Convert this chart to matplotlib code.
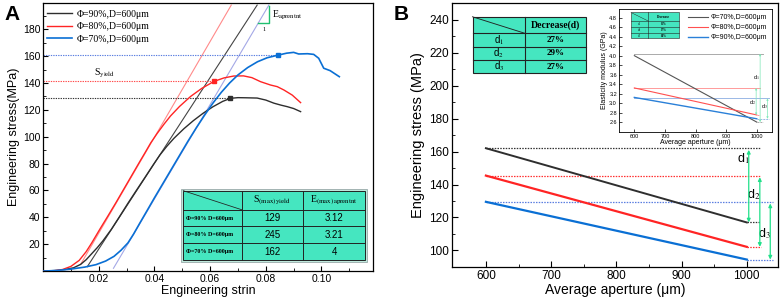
import matplotlib
matplotlib.use("Agg")
import matplotlib.pyplot as plt
from matplotlib.patches import Rectangle
from matplotlib.lines import Line2D

plt.rcParams['font.family'] = ['Liberation Sans', 'DejaVu Sans']
plt.rcParams['mathtext.fontset'] = 'stix'

SERIF = ['Liberation Serif', 'DejaVu Serif']

# ---------------- Panel A data ----------------
labels_A = ["Φ=90%,D=600μm", "Φ=80%,D=600μm", "Φ=70%,D=600μm"]
strain_90 = [0.000, 0.005, 0.008, 0.011, 0.0135, 0.0155, 0.0175, 0.0195, 0.0215, 0.0245,
             0.0273, 0.0305, 0.0335, 0.0367, 0.0397, 0.0420, 0.0445, 0.0470, 0.0506, 0.0540,
             0.0575, 0.0610, 0.0645, 0.0673, 0.0700, 0.0730, 0.0769, 0.0800, 0.0829, 0.0855,
             0.0877, 0.0900, 0.0925]
stress_90 = [0, 0.5, 1.2, 2.5, 5.0, 8.5, 13.0, 17.5, 22.5, 31.0,
             40.0, 50.5, 60.0, 70.0, 79.5, 86.5, 93.0, 98.8, 106.0, 112.0,
             117.5, 122.3, 126.3, 128.6, 129.1, 129.0, 128.8, 127.3, 125.0, 123.5,
             122.4, 121.0, 118.7]
strain_80 = [0.000, 0.004, 0.007, 0.010, 0.013, 0.0155, 0.0175, 0.0205, 0.0233, 0.0262,
             0.0290, 0.0318, 0.0346, 0.0366, 0.0387, 0.0410, 0.0435, 0.0458, 0.0490, 0.0530,
             0.0570, 0.0614, 0.0650, 0.0685, 0.0720, 0.0750, 0.0781, 0.0817, 0.0841, 0.0865,
             0.0895, 0.0925]
stress_80 = [0, 0.3, 1.2, 3.5, 8.0, 14.5, 21.0, 31.5, 41.0, 51.0,
             61.0, 71.0, 81.0, 88.0, 95.5, 102.5, 109.5, 115.5, 122.5, 130.0,
             136.0, 141.2, 143.8, 145.2, 145.3, 144.0, 141.0, 138.5, 137.3, 134.8,
             131.0, 125.4]
strain_70 = [0.000, 0.005, 0.010, 0.015, 0.019, 0.0225, 0.0255, 0.0280, 0.0305, 0.0325,
             0.0347, 0.0375, 0.0400, 0.0430, 0.0460, 0.0490, 0.0520, 0.0550, 0.0580, 0.0610,
             0.0640, 0.0670, 0.0700, 0.0735, 0.0770, 0.0805, 0.0845, 0.0875, 0.0900, 0.0918,
             0.0950, 0.0972, 0.0990, 0.1008, 0.1031, 0.1064]
stress_70 = [0, 0.5, 1.5, 3.0, 4.8, 7.5, 11.0, 15.5, 21.0, 27.5,
             35.5, 45.5, 54.5, 65.0, 75.5, 86.0, 96.5, 106.5, 116.0, 125.0,
             133.0, 140.0, 146.0, 151.5, 155.8, 158.8, 160.8, 162.2, 162.8, 161.6,
             161.8, 161.3, 158.4, 151.0, 149.2, 144.7]
yield_strain = [0.0673, 0.0614, 0.0845]
yield_stress = [129, 141.5, 160.8]
# tangent (modulus) lines: start strain, start stress, end strain, end stress
tan_x0 = [0.0159, 0.0135, 0.0253]
tan_y0 = [3.3, 5.0, 2.1]
tan_x1 = [0.0769, 0.0676, 0.0811]
tan_y1 = [198, 198, 198]

tableA_header = ["S$_{\\rm (max)}$$_{\\rm yield}$", "E$_{\\rm (max)}$$_{\\rm aprentnt}$"]
tableA_rows = ["Φ=90% D=600μm", "Φ=80% D=600μm", "Φ=70% D=600μm"]
tableA_S = ["129", "245", "162"]
tableA_E = ["3.12", "3.21", "4"]

# ---------------- Panel B data ----------------
aperture = [600, 1000]
stress_B_black = [162, 117]
stress_B_red = [145.4, 102.2]
stress_B_blue = [129.5, 94.5]
tableB_rows = ["d$_1$", "d$_2$", "d$_3$"]
tableB_vals = ["27%", "29%", "27%"]

# inset
labels_inset = ["Φ=70%,D=600μm", "Φ=80%,D=600μm", "Φ=90%,D=600μm"]
modulus_black = [4.0, 2.6]
modulus_red = [3.32, 2.75]
modulus_blue = [3.12, 2.67]
tableI_rows = ["d1", "d2", "d3"]
tableI_vals = ["35%", "17%", "14%"]

C_BLACK = '#2e2e2e'
C_RED = '#ff2424'
C_BLUE = '#0a6fd4'
C_GREEN = '#22e08a'
C_TABLE = '#45e6c0'

fig = plt.figure(figsize=(7.82, 3.06), dpi=100)

# ================= Panel A =================
axA = fig.add_axes([0.055, 0.114, 0.422, 0.876])
axA.set_xlim(0, 0.1185)
axA.set_ylim(0, 199.5)

tan_cols = ['#444444', '#ff8a8a', '#a4a8e6']
for i in range(3):
    axA.plot([tan_x0[i], tan_x1[i]], [tan_y0[i], tan_y1[i]], color=tan_cols[i], lw=0.8, zorder=2)

dot_cols = ['#333333', '#ff4a4a', '#5a7ee0']
for i in range(3):
    axA.plot([0, yield_strain[i]], [yield_stress[i], yield_stress[i]], color=dot_cols[i],
             lw=0.8, ls=(0, (1.2, 1.0)), zorder=2)

lA1, = axA.plot(strain_90, stress_90, color=C_BLACK, lw=1.0, zorder=3)
lA2, = axA.plot(strain_80, stress_80, color=C_RED, lw=1.0, zorder=3)
lA3, = axA.plot(strain_70, stress_70, color=C_BLUE, lw=1.2, zorder=3)
for i, c in enumerate([C_BLACK, C_RED, C_BLUE]):
    axA.plot([yield_strain[i]], [yield_stress[i]], marker='s', ms=2.2, color=c, zorder=4)

axA.legend([lA1, lA2, lA3], labels_A, loc='upper left', frameon=False,
           prop={'family': SERIF, 'size': 7}, handlelength=2.6, labelspacing=0.35,
           borderaxespad=0.3, handletextpad=0.5, bbox_to_anchor=(-0.01, 1.0))

axA.text(0.022, 147, "S$_{\\rm yield}$", fontsize=7, family=SERIF, ha='center', va='center')
axA.plot([0.0811, 0.0811, 0.0773], [197, 185, 185], color='#20c070', lw=1.0, zorder=4)
axA.text(0.0822, 190, "E$_{\\rm aprentnt}$", fontsize=7, family=SERIF, ha='left', va='center')
axA.text(0.0795, 180, "1", fontsize=4.5, family=SERIF, ha='center', va='center')

axA.set_xticks([0.02, 0.04, 0.06, 0.08, 0.10])
axA.set_xticklabels(["0.02", "0.04", "0.06", "0.08", "0.10"])
axA.set_xticks([0.01, 0.03, 0.05, 0.07, 0.09, 0.11], minor=True)
axA.set_yticks([20, 40, 60, 80, 100, 120, 140, 160, 180])
axA.set_yticks(list(range(10, 200, 20)), minor=True)
axA.tick_params(direction='in', labelsize=7.5, length=3.5, width=0.8, pad=2)
axA.tick_params(which='minor', direction='in', length=2, width=0.6)
axA.set_xlabel("Engineering strin", fontsize=9, labelpad=1)
axA.set_ylabel("Engineering stress(MPa)", fontsize=9, labelpad=2)
for s in axA.spines.values():
    s.set_linewidth(0.9)


def draw_table(ax, xs, ys, lw=0.7, ec='#222222', diag=True):
    x0, x1 = xs[0], xs[-1]
    y1, y0 = ys[0], ys[-1]
    ax.add_patch(Rectangle((x0, y0), x1 - x0, y1 - y0, transform=ax.transAxes,
                           facecolor=C_TABLE, edgecolor=ec, lw=lw, zorder=6, clip_on=False))
    for x in xs[1:-1]:
        ax.add_line(Line2D([x, x], [y0, y1], transform=ax.transAxes, color=ec, lw=lw, zorder=7))
    for y in ys[1:-1]:
        ax.add_line(Line2D([x0, x1], [y, y], transform=ax.transAxes, color=ec, lw=lw, zorder=7))
    if diag:
        ax.add_line(Line2D([xs[0], xs[1]], [ys[0], ys[1]], transform=ax.transAxes,
                           color=ec, lw=lw * 0.8, zorder=7))


xsA = [0.425, 0.602, 0.789, 0.976]
ysA = [0.300, 0.229, 0.167, 0.104, 0.042]
axA.add_patch(Rectangle((xsA[0] - 0.006, ysA[-1] - 0.008), xsA[-1] - xsA[0] + 0.012,
                        ysA[0] - ysA[-1] + 0.016, transform=axA.transAxes,
                        facecolor='#bfe8dc', edgecolor='#9aa', lw=0.6, zorder=5))
draw_table(axA, xsA, ysA)
cxA = [(xsA[i] + xsA[i + 1]) / 2 for i in range(3)]
cyA = [(ysA[i] + ysA[i + 1]) / 2 for i in range(4)]
axA.text(cxA[1], cyA[0], tableA_header[0], transform=axA.transAxes, ha='center', va='center',
         fontsize=7, family=SERIF, zorder=8)
axA.text(cxA[2], cyA[0], tableA_header[1], transform=axA.transAxes, ha='center', va='center',
         fontsize=7, family=SERIF, zorder=8)
for r in range(3):
    axA.text(xsA[0] + 0.008, cyA[r + 1], tableA_rows[r], transform=axA.transAxes, ha='left',
             va='center', fontsize=4.3, family=SERIF, fontweight='bold', zorder=8)
    axA.text(cxA[1], cyA[r + 1], tableA_S[r], transform=axA.transAxes, ha='center', va='center',
             fontsize=7, zorder=8)
    axA.text(cxA[2], cyA[r + 1], tableA_E[r], transform=axA.transAxes, ha='center', va='center',
             fontsize=7, zorder=8)

# ================= Panel B =================
axB = fig.add_axes([0.578, 0.1275, 0.417, 0.8625])
axB.set_xlim(548, 1048)
axB.set_ylim(90, 250)

axB.plot(aperture, stress_B_black, color=C_BLACK, lw=1.4, zorder=3)
axB.plot(aperture, stress_B_red, color=C_RED, lw=1.6, zorder=3)
axB.plot(aperture, stress_B_blue, color=C_BLUE, lw=1.6, zorder=3)

dotB = (0, (1.2, 1.0))
ref_ends = [1020, 1022, 1040]
for vals, c, xe in [(stress_B_black, '#333333', ref_ends[0]),
                    (stress_B_red, '#ff3030', ref_ends[1]),
                    (stress_B_blue, '#5a7ee0', ref_ends[2])]:
    axB.plot([aperture[0], xe], [vals[0], vals[0]], color=c, lw=0.9, ls=dotB, zorder=2)
    axB.plot([aperture[1], xe], [vals[1], vals[1]], color=c, lw=0.9, ls=dotB, zorder=2)

arrow_x = [1003, 1020, 1036]
for i, vals in enumerate([stress_B_black, stress_B_red, stress_B_blue]):
    axB.annotate("", xy=(arrow_x[i], vals[1]), xytext=(arrow_x[i], vals[0] - 1),
                 arrowprops=dict(arrowstyle='<|-|>', color=C_GREEN, lw=0.9,
                                 mutation_scale=5, shrinkA=0, shrinkB=0), zorder=4)
axB.text(995, 156, "d$_1$", fontsize=9, ha='center', va='center')
axB.text(1011, 134, "d$_2$", fontsize=9, ha='center', va='center')
axB.text(1027, 110, "d$_3$", fontsize=9, ha='center', va='center')

axB.set_xticks([600, 700, 800, 900, 1000])
axB.set_xticks([650, 750, 850, 950], minor=True)
axB.set_yticks(list(range(100, 241, 20)))
axB.set_yticks(list(range(110, 250, 20)), minor=True)
axB.tick_params(direction='in', labelsize=8.5, length=4, width=0.8, pad=2)
axB.tick_params(which='minor', direction='in', length=2.2, width=0.6)
axB.set_xlabel("Average aperture (μm)", fontsize=10, labelpad=1)
axB.set_ylabel("Engineering stress (MPa)", fontsize=10.5, labelpad=3)
for s in axB.spines.values():
    s.set_linewidth(0.9)

xsB = [0.0629, 0.2245, 0.4117]
ysB = [0.948, 0.885, 0.834, 0.784, 0.734]
draw_table(axB, xsB, ysB, lw=0.8)
cxB = [(xsB[i] + xsB[i + 1]) / 2 for i in range(2)]
cyB = [(ysB[i] + ysB[i + 1]) / 2 for i in range(4)]
axB.text(cxB[1], cyB[0], "Decrease(d)", transform=axB.transAxes, ha='center', va='center',
         fontsize=7, family=SERIF, fontweight='bold', zorder=8)
for r in range(3):
    axB.text(cxB[0], cyB[r + 1], tableB_rows[r], transform=axB.transAxes, ha='center',
             va='center', fontsize=7, zorder=8)
    axB.text(cxB[1], cyB[r + 1], tableB_vals[r], transform=axB.transAxes, ha='center',
             va='center', fontsize=6.5, family=SERIF, fontweight='bold', zorder=8)

# ---------------- inset ----------------
axI = fig.add_axes([0.7916, 0.570, 0.1957, 0.400])
axI.set_xlim(550, 1050)
axI.set_ylim(2.4, 4.98)
lI1, = axI.plot(aperture, modulus_black, color='#555555', lw=0.8, zorder=3)
lI2, = axI.plot(aperture, modulus_red, color='#ff5050', lw=0.8, zorder=3)
lI3, = axI.plot(aperture, modulus_blue, color='#2a80d8', lw=1.0, zorder=3)
top_refs = [4.04, 3.32, 3.10]
ref_endI = [1020, 1012, 1040]
ref_cols = ['#aaaaaa', '#ff9a9a', '#9ab8e6']
for i, vals in enumerate([modulus_black, modulus_red, modulus_blue]):
    axI.plot([aperture[0], ref_endI[i]], [top_refs[i], top_refs[i]], color=ref_cols[i], lw=0.7, zorder=2)
    axI.plot([aperture[1], ref_endI[i]], [vals[1], vals[1]], color=ref_cols[i], lw=0.7,
             ls=(0, (2, 1)), zorder=2)
arrowI_x = [1011, 998, 1035]
for i, vals in enumerate([modulus_black, modulus_red, modulus_blue]):
    axI.annotate("", xy=(arrowI_x[i], vals[1]), xytext=(arrowI_x[i], top_refs[i]),
                 arrowprops=dict(arrowstyle='<|-|>', color='#7fe8b8', lw=0.5,
                                 mutation_scale=2.5, shrinkA=0, shrinkB=0), zorder=4)
axI.text(1000, 3.53, "d$_1$", fontsize=4, ha='center', va='center')
axI.text(987, 3.01, "d$_2$", fontsize=4, ha='center', va='center')
axI.text(1025, 2.92, "d$_3$", fontsize=4, ha='center', va='center')
axI.legend([lI1, lI2, lI3], labels_inset, loc='upper right', frameon=False, fontsize=5,
           handlelength=2.8, labelspacing=0.45, borderaxespad=0.3, handletextpad=0.4)
axI.set_xticks([600, 700, 800, 900, 1000])
axI.set_yticks([2.6, 2.8, 3.0, 3.2, 3.4, 3.6, 3.8, 4.0, 4.2, 4.4, 4.6, 4.8])
axI.set_yticklabels(["2.6", "2.8", "3.0", "3.2", "3.4", "3.6", "3.8", "4.0", "4.2", "4.4", "4.6", "4.8"])
axI.tick_params(direction='in', labelsize=4, length=2, width=0.5, pad=1.5)
axI.set_xlabel("Average aperture (μm)", fontsize=5, labelpad=0.5)
axI.set_ylabel("Elasticity modulus (GPa)", fontsize=5, labelpad=1)
for s in axI.spines.values():
    s.set_linewidth(0.6)

xsI = [0.078, 0.19, 0.392]
ysI = [0.973, 0.904, 0.857, 0.808, 0.761]
draw_table(axI, xsI, ysI, lw=0.4)
cxI = [(xsI[i] + xsI[i + 1]) / 2 for i in range(2)]
cyI = [(ysI[i] + ysI[i + 1]) / 2 for i in range(4)]
axI.text(cxI[1], cyI[0], "Decrease", transform=axI.transAxes, ha='center', va='center',
         fontsize=2.4, family=SERIF, fontweight='bold', zorder=8)
for r in range(3):
    axI.text(cxI[0], cyI[r + 1], tableI_rows[r], transform=axI.transAxes, ha='center',
             va='center', fontsize=2.2, family=SERIF, zorder=8)
    axI.text(cxI[1], cyI[r + 1], tableI_vals[r], transform=axI.transAxes, ha='center',
             va='center', fontsize=2.2, family=SERIF, fontweight='bold', zorder=8)

fig.text(0.006, 0.985, "A", fontsize=15, fontweight='bold', ha='left', va='top')
fig.text(0.503, 0.985, "B", fontsize=15, fontweight='bold', ha='left', va='top')

fig.savefig("out.png", dpi=100)
